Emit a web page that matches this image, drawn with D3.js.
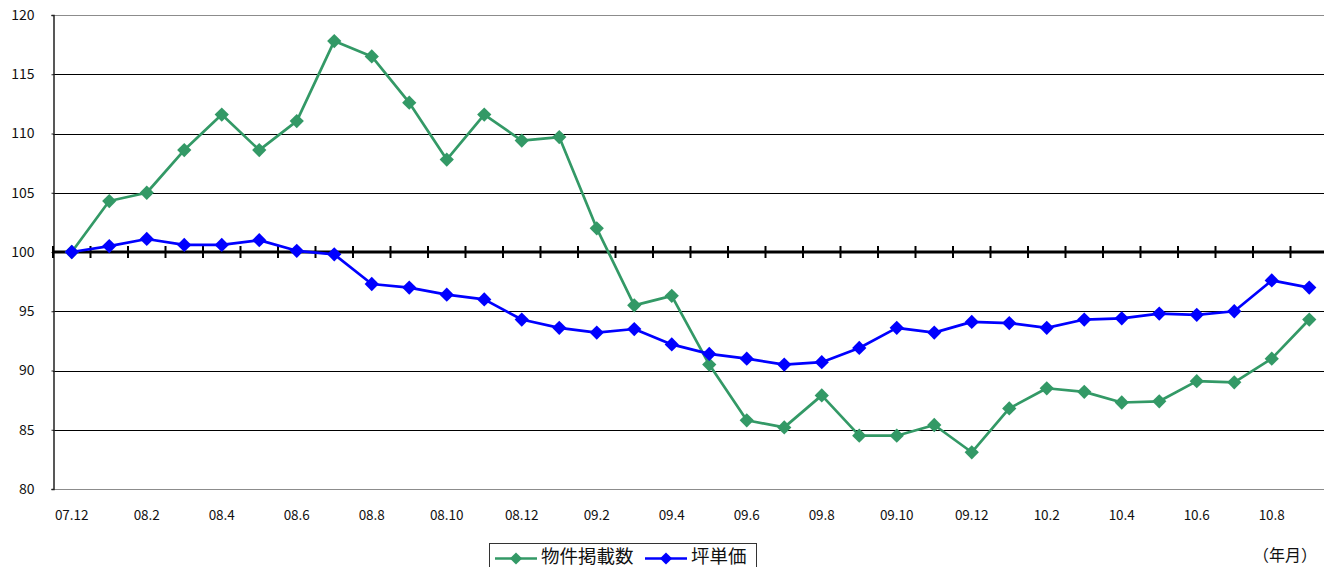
<!DOCTYPE html>
<html>
<head>
<meta charset="utf-8">
<script src="https://cdn.jsdelivr.net/npm/d3@7"></script>
<style>
  html, body { margin: 0; padding: 0; background: #fff; }
  svg { display: block; }
  text { font-family: "Noto Sans CJK JP", "Noto Sans", sans-serif; fill: #111; }
</style>
</head>
<body>
<svg id="chart" width="1324" height="567"></svg>
<script>
// Months (yy.m) from Dec 2007 to Sep 2010
const months = [
  "07.12",
  "08.1","08.2","08.3","08.4","08.5","08.6","08.7","08.8","08.9","08.10","08.11","08.12",
  "09.1","09.2","09.3","09.4","09.5","09.6","09.7","09.8","09.9","09.10","09.11","09.12",
  "10.1","10.2","10.3","10.4","10.5","10.6","10.7","10.8","10.9"
];

// Index values (Dec 2007 = 100)
const listings = [
  100,
  104.3,105.0,108.6,111.6,108.6,111.05,117.8,116.5,112.6,107.8,111.6,109.4,
  109.7,102.0,95.5,96.3,90.5,85.8,85.2,87.9,84.5,84.5,85.4,83.1,
  86.8,88.5,88.2,87.3,87.4,89.1,89.0,91.0,94.3
];
const unitPrice = [
  100,
  100.5,101.1,100.6,100.6,101.0,100.1,99.8,97.3,97.0,96.4,96.0,94.3,
  93.6,93.2,93.5,92.2,91.4,91.0,90.5,90.7,91.9,93.6,93.2,94.1,
  94.0,93.6,94.3,94.4,94.8,94.7,95.0,97.6,97.0
];

const yTicks = [80, 85, 90, 95, 100, 105, 110, 115, 120];
const seriesNames = ["物件掲載数", "坪単価"];
const seriesColors = ["#339966", "#0000ff"];
const unitLabel = "（年月）";

const svg = d3.select("#chart");
const plotLeft = 53, plotTop = 15, plotBottom = 489;
const band = 37.5;
const plotRight = plotLeft + band * months.length;

const x = d3.scaleBand().domain(months).range([plotLeft, plotRight]).paddingInner(0).paddingOuter(0);
const y = d3.scaleLinear().domain([80, 120]).range([plotBottom, plotTop]);

// Horizontal gridlines
svg.append("g")
  .selectAll("line")
  .data(yTicks)
  .join("line")
  .attr("x1", plotLeft).attr("x2", plotRight)
  .attr("y1", d => Math.round(y(d)) + 0.5).attr("y2", d => Math.round(y(d)) + 0.5)
  .attr("stroke", d => (d === 80 || d === 120) ? "#8c8c8c" : "#000")
  .attr("stroke-width", 1);

// Y axis
const yAxis = d3.axisLeft(y).tickValues(yTicks).tickSize(2).tickPadding(17).tickFormat(d3.format("d"));
const gy = svg.append("g").attr("transform", `translate(${plotLeft + 0.5},0)`).call(yAxis);
gy.select(".domain").attr("stroke", "#222").attr("stroke-width", 1.5);
gy.selectAll(".tick line").attr("stroke", "#222");
gy.selectAll(".tick text").style("font-size", "14px").attr("fill", "#111");

// Category axis crossing at 100, with ticks between categories
const y100 = Math.round(y(100));
svg.append("line")
  .attr("x1", plotLeft).attr("x2", plotRight)
  .attr("y1", y100).attr("y2", y100)
  .attr("stroke", "#000").attr("stroke-width", 3);
svg.append("g")
  .selectAll("line")
  .data(d3.range(months.length + 1))
  .join("line")
  .attr("x1", i => plotLeft + i * x.bandwidth()).attr("x2", i => plotLeft + i * x.bandwidth())
  .attr("y1", y100 - 6).attr("y2", y100 + 6)
  .attr("stroke", "#000").attr("stroke-width", 2);

// Category labels along the bottom, every second month
svg.append("g")
  .selectAll("text")
  .data(months.filter((m, i) => i % 2 === 0))
  .join("text")
  .attr("x", d => x(d) + x.bandwidth() / 2)
  .attr("y", 520)
  .attr("text-anchor", "middle")
  .style("font-size", "13.5px")
  .text(d => d);

// Series lines and diamond markers
const line = d3.line()
  .x((d, i) => x(months[i]) + x.bandwidth() / 2)
  .y(d => y(d));

const diamond = d3.symbol().type(d3.symbolDiamond2).size(130);

[listings, unitPrice].forEach((vals, si) => {
  const g = svg.append("g");
  g.append("path")
    .datum(vals)
    .attr("fill", "none")
    .attr("stroke", seriesColors[si])
    .attr("stroke-width", 2.7)
    .attr("stroke-linejoin", "round")
    .attr("d", line);
  g.selectAll("path.mk")
    .data(vals)
    .join("path")
    .attr("class", "mk")
    .attr("transform", (d, i) => `translate(${x(months[i]) + x.bandwidth() / 2},${y(d)})`)
    .attr("d", diamond)
    .attr("fill", seriesColors[si]);
});

// Legend
const lg = svg.append("g");
lg.append("rect")
  .attr("x", 489.5).attr("y", 543.5)
  .attr("width", 267).attr("height", 40)
  .attr("fill", "#fff").attr("stroke", "#333").attr("stroke-width", 1);
const legendItems = [
  { x: 495, name: seriesNames[0], color: seriesColors[0] },
  { x: 645, name: seriesNames[1], color: seriesColors[1] }
];
legendItems.forEach(it => {
  lg.append("line")
    .attr("x1", it.x).attr("x2", it.x + 42)
    .attr("y1", 558.5).attr("y2", 558.5)
    .attr("stroke", it.color).attr("stroke-width", 2.7);
  lg.append("path")
    .attr("transform", `translate(${it.x + 21},558.5)`)
    .attr("d", d3.symbol().type(d3.symbolDiamond2).size(95))
    .attr("fill", it.color);
  lg.append("text")
    .attr("x", it.x + 46).attr("y", 563)
    .style("font-size", "18.5px")
    .text(it.name);
});

// Axis unit note
svg.append("text")
  .attr("x", 1253).attr("y", 561)
  .attr("text-anchor", "start")
  .style("font-size", "16px")
  .text(unitLabel);
</script>
</body>
</html>
